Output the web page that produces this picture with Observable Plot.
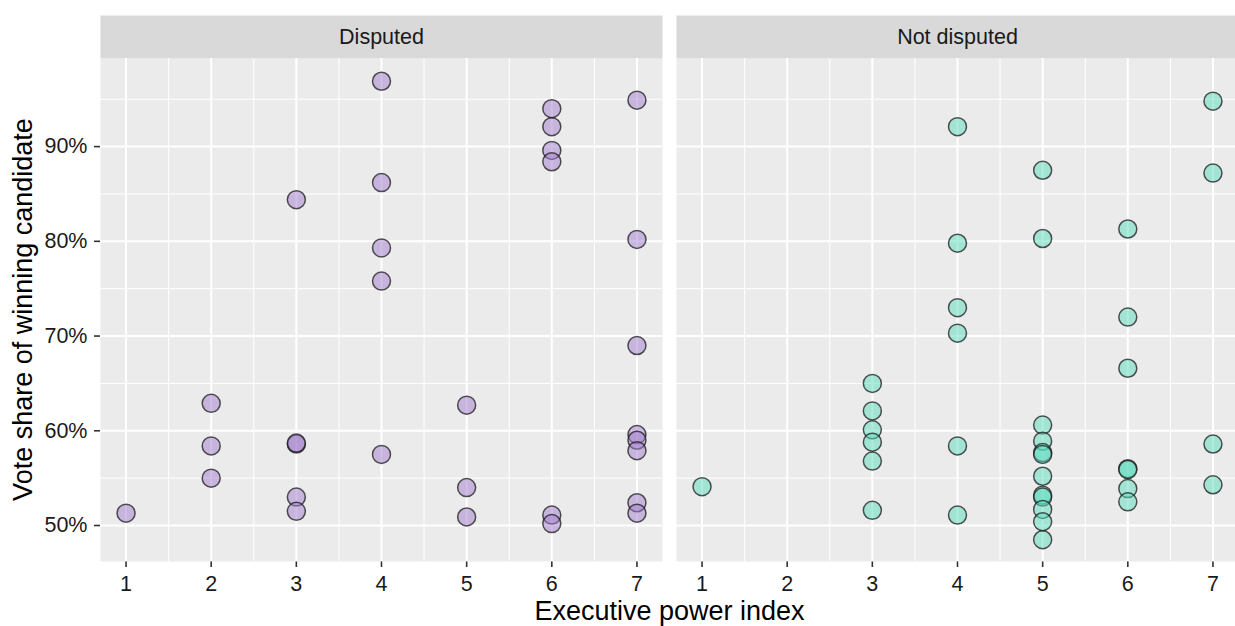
<!DOCTYPE html>
<html>
<head>
<meta charset="utf-8">
<script src="https://cdn.jsdelivr.net/npm/d3@7"></script>
<script src="https://cdn.jsdelivr.net/npm/@observablehq/plot@0.6"></script>
<style>
  html, body { margin: 0; padding: 0; background: #ffffff; overflow: hidden; }
  #chart { width: 1240px; }
  #chart svg { max-width: none !important; width: 1240px !important; height: 626px !important; }
  #chart svg [aria-label*="axis"] line,
  #chart svg [aria-label*="axis tick"] path { stroke-width: 1.6px; stroke: #333333; }
</style>
</head>
<body>
<div id="chart"></div>
<script>
// ---- data ----
const facetNames = ["Disputed", "Not disputed"];

const disputedPower = [1, 2, 2, 2, 3, 3, 3, 3, 3, 4, 4, 4, 4, 4, 5, 5, 5, 6, 6, 6, 6, 6, 6, 7, 7, 7, 7, 7, 7, 7, 7];
const disputedShare = [51.3, 62.9, 58.4, 55.0, 84.4, 58.6, 58.7, 53.0, 51.5, 96.9, 86.2, 79.3, 75.8, 57.5, 62.7, 54.0, 50.9, 94.0, 92.1, 89.6, 88.4, 51.1, 50.2, 94.9, 80.2, 69.0, 59.6, 59.0, 57.9, 52.4, 51.3];

const notDisputedPower = [1, 3, 3, 3, 3, 3, 3, 4, 4, 4, 4, 4, 4, 5, 5, 5, 5, 5, 5, 5, 5, 5, 5, 5, 5, 6, 6, 6, 6, 6, 6, 6, 7, 7, 7, 7];
const notDisputedShare = [54.1, 65.0, 62.1, 60.1, 58.8, 56.8, 51.6, 92.1, 79.8, 73.0, 70.3, 58.4, 51.1, 87.5, 80.3, 60.6, 58.9, 57.7, 57.5, 55.2, 53.2, 53.0, 51.7, 50.4, 48.5, 81.3, 72.0, 66.6, 56.0, 55.9, 53.9, 52.5, 94.8, 87.2, 58.6, 54.3];

const xTicks = [1, 2, 3, 4, 5, 6, 7];
const xMinor = [1.5, 2.5, 3.5, 4.5, 5.5, 6.5];
const yTicks = [50, 60, 70, 80, 90];
const yMinor = [55, 65, 75, 85, 95];

const xLabel = "Executive power index";
const yLabel = "Vote share of winning candidate";

const disputedPoints = disputedPower.map((p, i) => ({power: p, share: disputedShare[i]}));
const notDisputedPoints = notDisputedPower.map((p, i) => ({power: p, share: notDisputedShare[i]}));

// ---- layout ----
const W = 1240, H = 626;
const mTop = 58, mBottom = 65, mLeft = 100, mRight = 1;
const panelH = H - mTop - mBottom;
const stripH = 43;

const dotStyle = {r: 9, fillOpacity: 0.5, stroke: "#1a1a1a", strokeOpacity: 0.75, strokeWidth: 1.5};

const plot = Plot.plot({
  width: W,
  height: H,
  marginTop: mTop,
  marginBottom: mBottom,
  marginLeft: mLeft,
  marginRight: mRight,
  style: {fontFamily: "'Liberation Sans', Arial, sans-serif", fontSize: "21.5px", color: "#1a1a1a", background: "#ffffff", overflow: "visible"},
  fx: {domain: facetNames, axis: null, paddingInner: 0.0243, paddingOuter: 0, label: null},
  x: {domain: [0.7, 7.3], ticks: xTicks, tickSize: 6, tickPadding: 8, label: null, tickFormat: d => String(d)},
  y: {domain: [46.2, 99.3], ticks: yTicks, tickSize: 6, tickPadding: 7, label: null, tickFormat: d => d + "%"},
  marks: [
    Plot.frame({fill: "#ebebeb", stroke: "none"}),
    Plot.frame({fill: "#d9d9d9", stroke: "none", insetTop: -stripH, insetBottom: panelH}),
    Plot.ruleY(yMinor, {stroke: "#ffffff", strokeWidth: 1}),
    Plot.ruleX(xMinor, {stroke: "#ffffff", strokeWidth: 1}),
    Plot.ruleY(yTicks, {stroke: "#ffffff", strokeWidth: 2}),
    Plot.ruleX(xTicks, {stroke: "#ffffff", strokeWidth: 2}),
    Plot.text(facetNames, {fx: d => d, text: d => d, frameAnchor: "top", lineAnchor: "middle", dy: -stripH / 2, fill: "#1a1a1a", fontSize: 21.5}),
    Plot.dot(disputedPoints, {x: "power", y: "share", fx: () => "Disputed", fill: "#a17dcd", ...dotStyle}),
    Plot.dot(notDisputedPoints, {x: "power", y: "share", fx: () => "Not disputed", fill: "#5adcbd", ...dotStyle})
  ]
});

document.getElementById("chart").appendChild(plot);

// axis titles
const svg = d3.select(plot);
svg.append("text")
  .attr("x", (mLeft + W - mRight) / 2)
  .attr("y", 620)
  .attr("text-anchor", "middle")
  .attr("font-size", 27)
  .attr("fill", "#000000")
  .text(xLabel);
svg.append("text")
  .attr("transform", `translate(32,${mTop + panelH / 2}) rotate(-90)`)
  .attr("text-anchor", "middle")
  .attr("font-size", 27)
  .attr("fill", "#000000")
  .text(yLabel);
</script>
</body>
</html>
